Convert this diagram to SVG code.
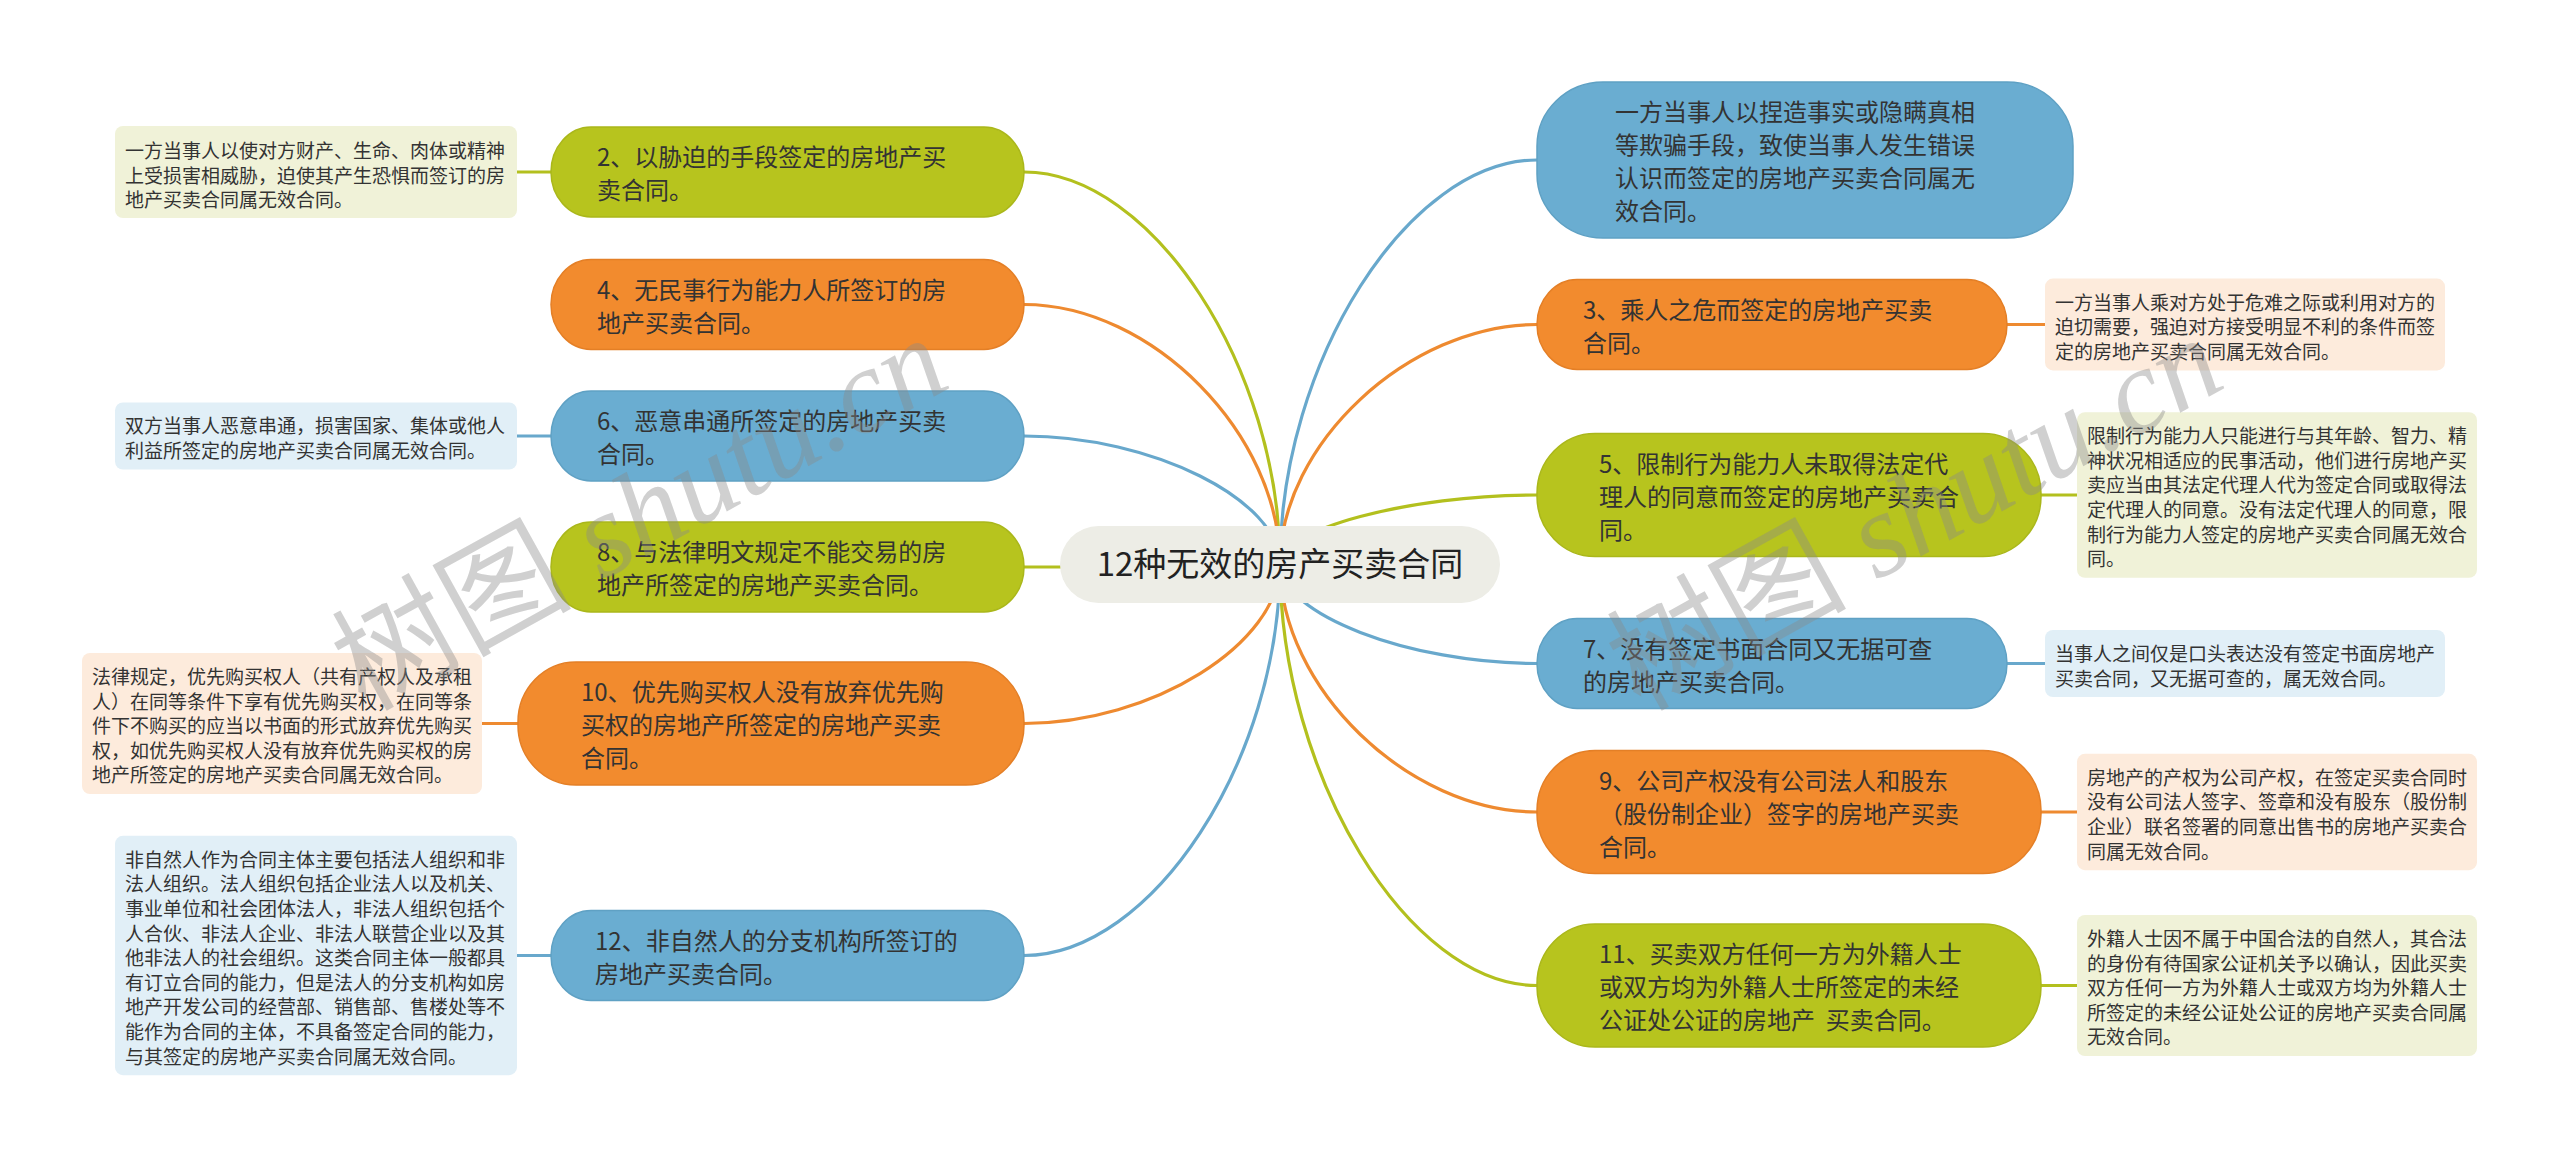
<svg xmlns="http://www.w3.org/2000/svg" width="2560" height="1158" viewBox="0 0 2560 1158">
<style>
text{font-family:"Noto Sans CJK SC","Noto Sans",sans-serif;fill:#333}
.nt{font-size:24px}
.ot{font-size:19px}
.ct{font-size:33px;fill:#222}
.g{fill:#B7C41E;stroke:#AAB71A;stroke-width:1.5}
.o{fill:#F28B2E;stroke:#E47F26;stroke-width:1.5}
.b{fill:#6AADD1;stroke:#5FA1C4;stroke-width:1.5}
.gn{fill:#F0F2D8}
.on{fill:#FDEBDC}
.bn{fill:#E1EFF7}
.cg{stroke:#B3C01E}
.co{stroke:#EE8A30}
.cb{stroke:#68A8CC}
#connectors path{fill:none;stroke-width:3.2}
.wm text{fill:#8a8a8a;fill-opacity:0.4}
</style>
<rect width="2560" height="1158" fill="#FFFFFF"/>
<g id="connectors">
<path class="cg" d="M1280,564 C1280,368 1152,172 1024,172"/>
<path class="co" d="M1280,564 C1280,434.25 1152,304.5 1024,304.5"/>
<path class="cb" d="M1280,564 C1280,500 1152,436 1024,436"/>
<path class="cg" d="M1280,567 L1024,567"/>
<path class="co" d="M1280,564 C1280,643.75 1152,723.5 1024,723.5"/>
<path class="cb" d="M1280,564 C1280,759.75 1152,955.5 1024,955.5"/>
<path class="cb" d="M1280,564 C1280,362 1408.5,160 1537,160"/>
<path class="co" d="M1280,564 C1280,444.25 1408.5,324.5 1537,324.5"/>
<path class="cg" d="M1280,564 C1280,529.5 1408.5,495 1537,495"/>
<path class="cb" d="M1280,564 C1280,613.75 1408.5,663.5 1537,663.5"/>
<path class="co" d="M1280,564 C1280,688 1408.5,812 1537,812"/>
<path class="cg" d="M1280,564 C1280,774.75 1408.5,985.5 1537,985.5"/>
<path class="cg" d="M517,172 L551,172"/>
<path class="cb" d="M517,436 L551,436"/>
<path class="co" d="M482,723.5 L518,723.5"/>
<path class="cb" d="M517,955.5 L551,955.5"/>
<path class="co" d="M2007,324.5 L2045,324.5"/>
<path class="cg" d="M2041,495 L2077,495"/>
<path class="cb" d="M2007,663.5 L2045,663.5"/>
<path class="co" d="M2041,812 L2077,812"/>
<path class="cg" d="M2041,985.5 L2077,985.5"/>
</g>
<g id="center">
<rect x="1060" y="526" width="440" height="77" rx="38.5" fill="#EDEDE6"/>
<text class="ct" x="1280" y="576" text-anchor="middle">12种无效的房产买卖合同</text>
</g>
<g id="n2">
<rect class="g" x="551" y="127" width="473" height="90" rx="40" ry="45"/>
<text class="nt" x="597" y="166"><tspan>2、以胁迫的手段签定的房地产买</tspan><tspan x="597" dy="33">卖合同。</tspan></text>
</g>
<g id="note2">
<rect class="gn" x="115" y="126" width="402" height="92" rx="8"/>
<text class="ot" x="125" y="158"><tspan>一方当事人以使对方财产、生命、肉体或精神</tspan><tspan x="125" dy="24.6">上受损害相威胁，迫使其产生恐惧而签订的房</tspan><tspan x="125" dy="24.6">地产买卖合同属无效合同。</tspan></text>
</g>
<g id="n4">
<rect class="o" x="551" y="259.5" width="473" height="90" rx="40" ry="45"/>
<text class="nt" x="597" y="298.5"><tspan>4、无民事行为能力人所签订的房</tspan><tspan x="597" dy="33">地产买卖合同。</tspan></text>
</g>
<g id="n6">
<rect class="b" x="551" y="391" width="473" height="90" rx="40" ry="45"/>
<text class="nt" x="597" y="430"><tspan>6、恶意串通所签定的房地产买卖</tspan><tspan x="597" dy="33">合同。</tspan></text>
</g>
<g id="note6">
<rect class="bn" x="115" y="402.4" width="402" height="67.2" rx="8"/>
<text class="ot" x="125" y="433.4"><tspan>双方当事人恶意串通，损害国家、集体或他人</tspan><tspan x="125" dy="24.6">利益所签定的房地产买卖合同属无效合同。</tspan></text>
</g>
<g id="n8">
<rect class="g" x="551" y="522" width="473" height="90" rx="40" ry="45"/>
<text class="nt" x="597" y="561"><tspan>8、与法律明文规定不能交易的房</tspan><tspan x="597" dy="33">地产所签定的房地产买卖合同。</tspan></text>
</g>
<g id="n10">
<rect class="o" x="518" y="662" width="506" height="123" rx="58" ry="60"/>
<text class="nt" x="581" y="701"><tspan>10、优先购买权人没有放弃优先购</tspan><tspan x="581" dy="33">买权的房地产所签定的房地产买卖</tspan><tspan x="581" dy="33">合同。</tspan></text>
</g>
<g id="note10">
<rect class="on" x="82" y="653" width="400" height="141" rx="8"/>
<text class="ot" x="92" y="684"><tspan>法律规定，优先购买权人（共有产权人及承租</tspan><tspan x="92" dy="24.6">人）在同等条件下享有优先购买权，在同等条</tspan><tspan x="92" dy="24.6">件下不购买的应当以书面的形式放弃优先购买</tspan><tspan x="92" dy="24.6">权，如优先购买权人没有放弃优先购买权的房</tspan><tspan x="92" dy="24.6">地产所签定的房地产买卖合同属无效合同。</tspan></text>
</g>
<g id="n12">
<rect class="b" x="551" y="910.5" width="473" height="90" rx="40" ry="45"/>
<text class="nt" x="595" y="949.5"><tspan>12、非自然人的分支机构所签订的</tspan><tspan x="595" dy="33">房地产买卖合同。</tspan></text>
</g>
<g id="note12">
<rect class="bn" x="115" y="835.8" width="402" height="239.4" rx="8"/>
<text class="ot" x="125" y="866.8"><tspan>非自然人作为合同主体主要包括法人组织和非</tspan><tspan x="125" dy="24.6">法人组织。法人组织包括企业法人以及机关、</tspan><tspan x="125" dy="24.6">事业单位和社会团体法人，非法人组织包括个</tspan><tspan x="125" dy="24.6">人合伙、非法人企业、非法人联营企业以及其</tspan><tspan x="125" dy="24.6">他非法人的社会组织。这类合同主体一般都具</tspan><tspan x="125" dy="24.6">有订立合同的能力，但是法人的分支机构如房</tspan><tspan x="125" dy="24.6">地产开发公司的经营部、销售部、售楼处等不</tspan><tspan x="125" dy="24.6">能作为合同的主体，不具备签定合同的能力，</tspan><tspan x="125" dy="24.6">与其签定的房地产买卖合同属无效合同。</tspan></text>
</g>
<g id="n1">
<rect class="b" x="1537" y="82" width="536" height="156" rx="66" ry="64"/>
<text class="nt" x="1615" y="121"><tspan>一方当事人以捏造事实或隐瞒真相</tspan><tspan x="1615" dy="33">等欺骗手段，致使当事人发生错误</tspan><tspan x="1615" dy="33">认识而签定的房地产买卖合同属无</tspan><tspan x="1615" dy="33">效合同。</tspan></text>
</g>
<g id="n3">
<rect class="o" x="1537" y="279.5" width="470" height="90" rx="40" ry="45"/>
<text class="nt" x="1583" y="318.5"><tspan>3、乘人之危而签定的房地产买卖</tspan><tspan x="1583" dy="33">合同。</tspan></text>
</g>
<g id="note3">
<rect class="on" x="2045" y="278.6" width="400" height="91.8" rx="8"/>
<text class="ot" x="2055" y="309.6"><tspan>一方当事人乘对方处于危难之际或利用对方的</tspan><tspan x="2055" dy="24.6">迫切需要，强迫对方接受明显不利的条件而签</tspan><tspan x="2055" dy="24.6">定的房地产买卖合同属无效合同。</tspan></text>
</g>
<g id="n5">
<rect class="g" x="1537" y="433.5" width="504" height="123" rx="58" ry="60"/>
<text class="nt" x="1599" y="472.5"><tspan>5、限制行为能力人未取得法定代</tspan><tspan x="1599" dy="33">理人的同意而签定的房地产买卖合</tspan><tspan x="1599" dy="33">同。</tspan></text>
</g>
<g id="note5">
<rect class="gn" x="2077" y="412.2" width="400" height="165.6" rx="8"/>
<text class="ot" x="2087" y="443.2"><tspan>限制行为能力人只能进行与其年龄、智力、精</tspan><tspan x="2087" dy="24.6">神状况相适应的民事活动，他们进行房地产买</tspan><tspan x="2087" dy="24.6">卖应当由其法定代理人代为签定合同或取得法</tspan><tspan x="2087" dy="24.6">定代理人的同意。没有法定代理人的同意，限</tspan><tspan x="2087" dy="24.6">制行为能力人签定的房地产买卖合同属无效合</tspan><tspan x="2087" dy="24.6">同。</tspan></text>
</g>
<g id="n7">
<rect class="b" x="1537" y="618.5" width="470" height="90" rx="40" ry="45"/>
<text class="nt" x="1583" y="657.5"><tspan>7、没有签定书面合同又无据可查</tspan><tspan x="1583" dy="33">的房地产买卖合同。</tspan></text>
</g>
<g id="note7">
<rect class="bn" x="2045" y="629.9" width="400" height="67.2" rx="8"/>
<text class="ot" x="2055" y="660.9"><tspan>当事人之间仅是口头表达没有签定书面房地产</tspan><tspan x="2055" dy="24.6">买卖合同，又无据可查的，属无效合同。</tspan></text>
</g>
<g id="n9">
<rect class="o" x="1537" y="750.5" width="504" height="123" rx="58" ry="60"/>
<text class="nt" x="1599" y="789.5"><tspan>9、公司产权没有公司法人和股东</tspan><tspan x="1599" dy="33">（股份制企业）签字的房地产买卖</tspan><tspan x="1599" dy="33">合同。</tspan></text>
</g>
<g id="note9">
<rect class="on" x="2077" y="753.8" width="400" height="116.4" rx="8"/>
<text class="ot" x="2087" y="784.8"><tspan>房地产的产权为公司产权，在签定买卖合同时</tspan><tspan x="2087" dy="24.6">没有公司法人签字、签章和没有股东（股份制</tspan><tspan x="2087" dy="24.6">企业）联名签署的同意出售书的房地产买卖合</tspan><tspan x="2087" dy="24.6">同属无效合同。</tspan></text>
</g>
<g id="n11">
<rect class="g" x="1537" y="924" width="504" height="123" rx="58" ry="60"/>
<text class="nt" x="1599" y="963" xml:space="preserve"><tspan>11、买卖双方任何一方为外籍人士</tspan><tspan x="1599" dy="33">或双方均为外籍人士所签定的未经</tspan><tspan x="1599" dy="33">公证处公证的房地产  买卖合同。</tspan></text>
</g>
<g id="note11">
<rect class="gn" x="2077" y="915" width="400" height="141" rx="8"/>
<text class="ot" x="2087" y="946"><tspan>外籍人士因不属于中国合法的自然人，其合法</tspan><tspan x="2087" dy="24.6">的身份有待国家公证机关予以确认，因此买卖</tspan><tspan x="2087" dy="24.6">双方任何一方为外籍人士或双方均为外籍人士</tspan><tspan x="2087" dy="24.6">所签定的未经公证处公证的房地产买卖合同属</tspan><tspan x="2087" dy="24.6">无效合同。</tspan></text>
</g>
<g class="wm">
<text transform="translate(365,712) rotate(-29)" font-size="120"><tspan>树图</tspan><tspan font-family="Liberation Serif" font-style="italic"> shutu.cn</tspan></text>
<text transform="translate(1640,712) rotate(-29)" font-size="120"><tspan>树图</tspan><tspan font-family="Liberation Serif" font-style="italic"> shutu.cn</tspan></text>
</g>
</svg>
